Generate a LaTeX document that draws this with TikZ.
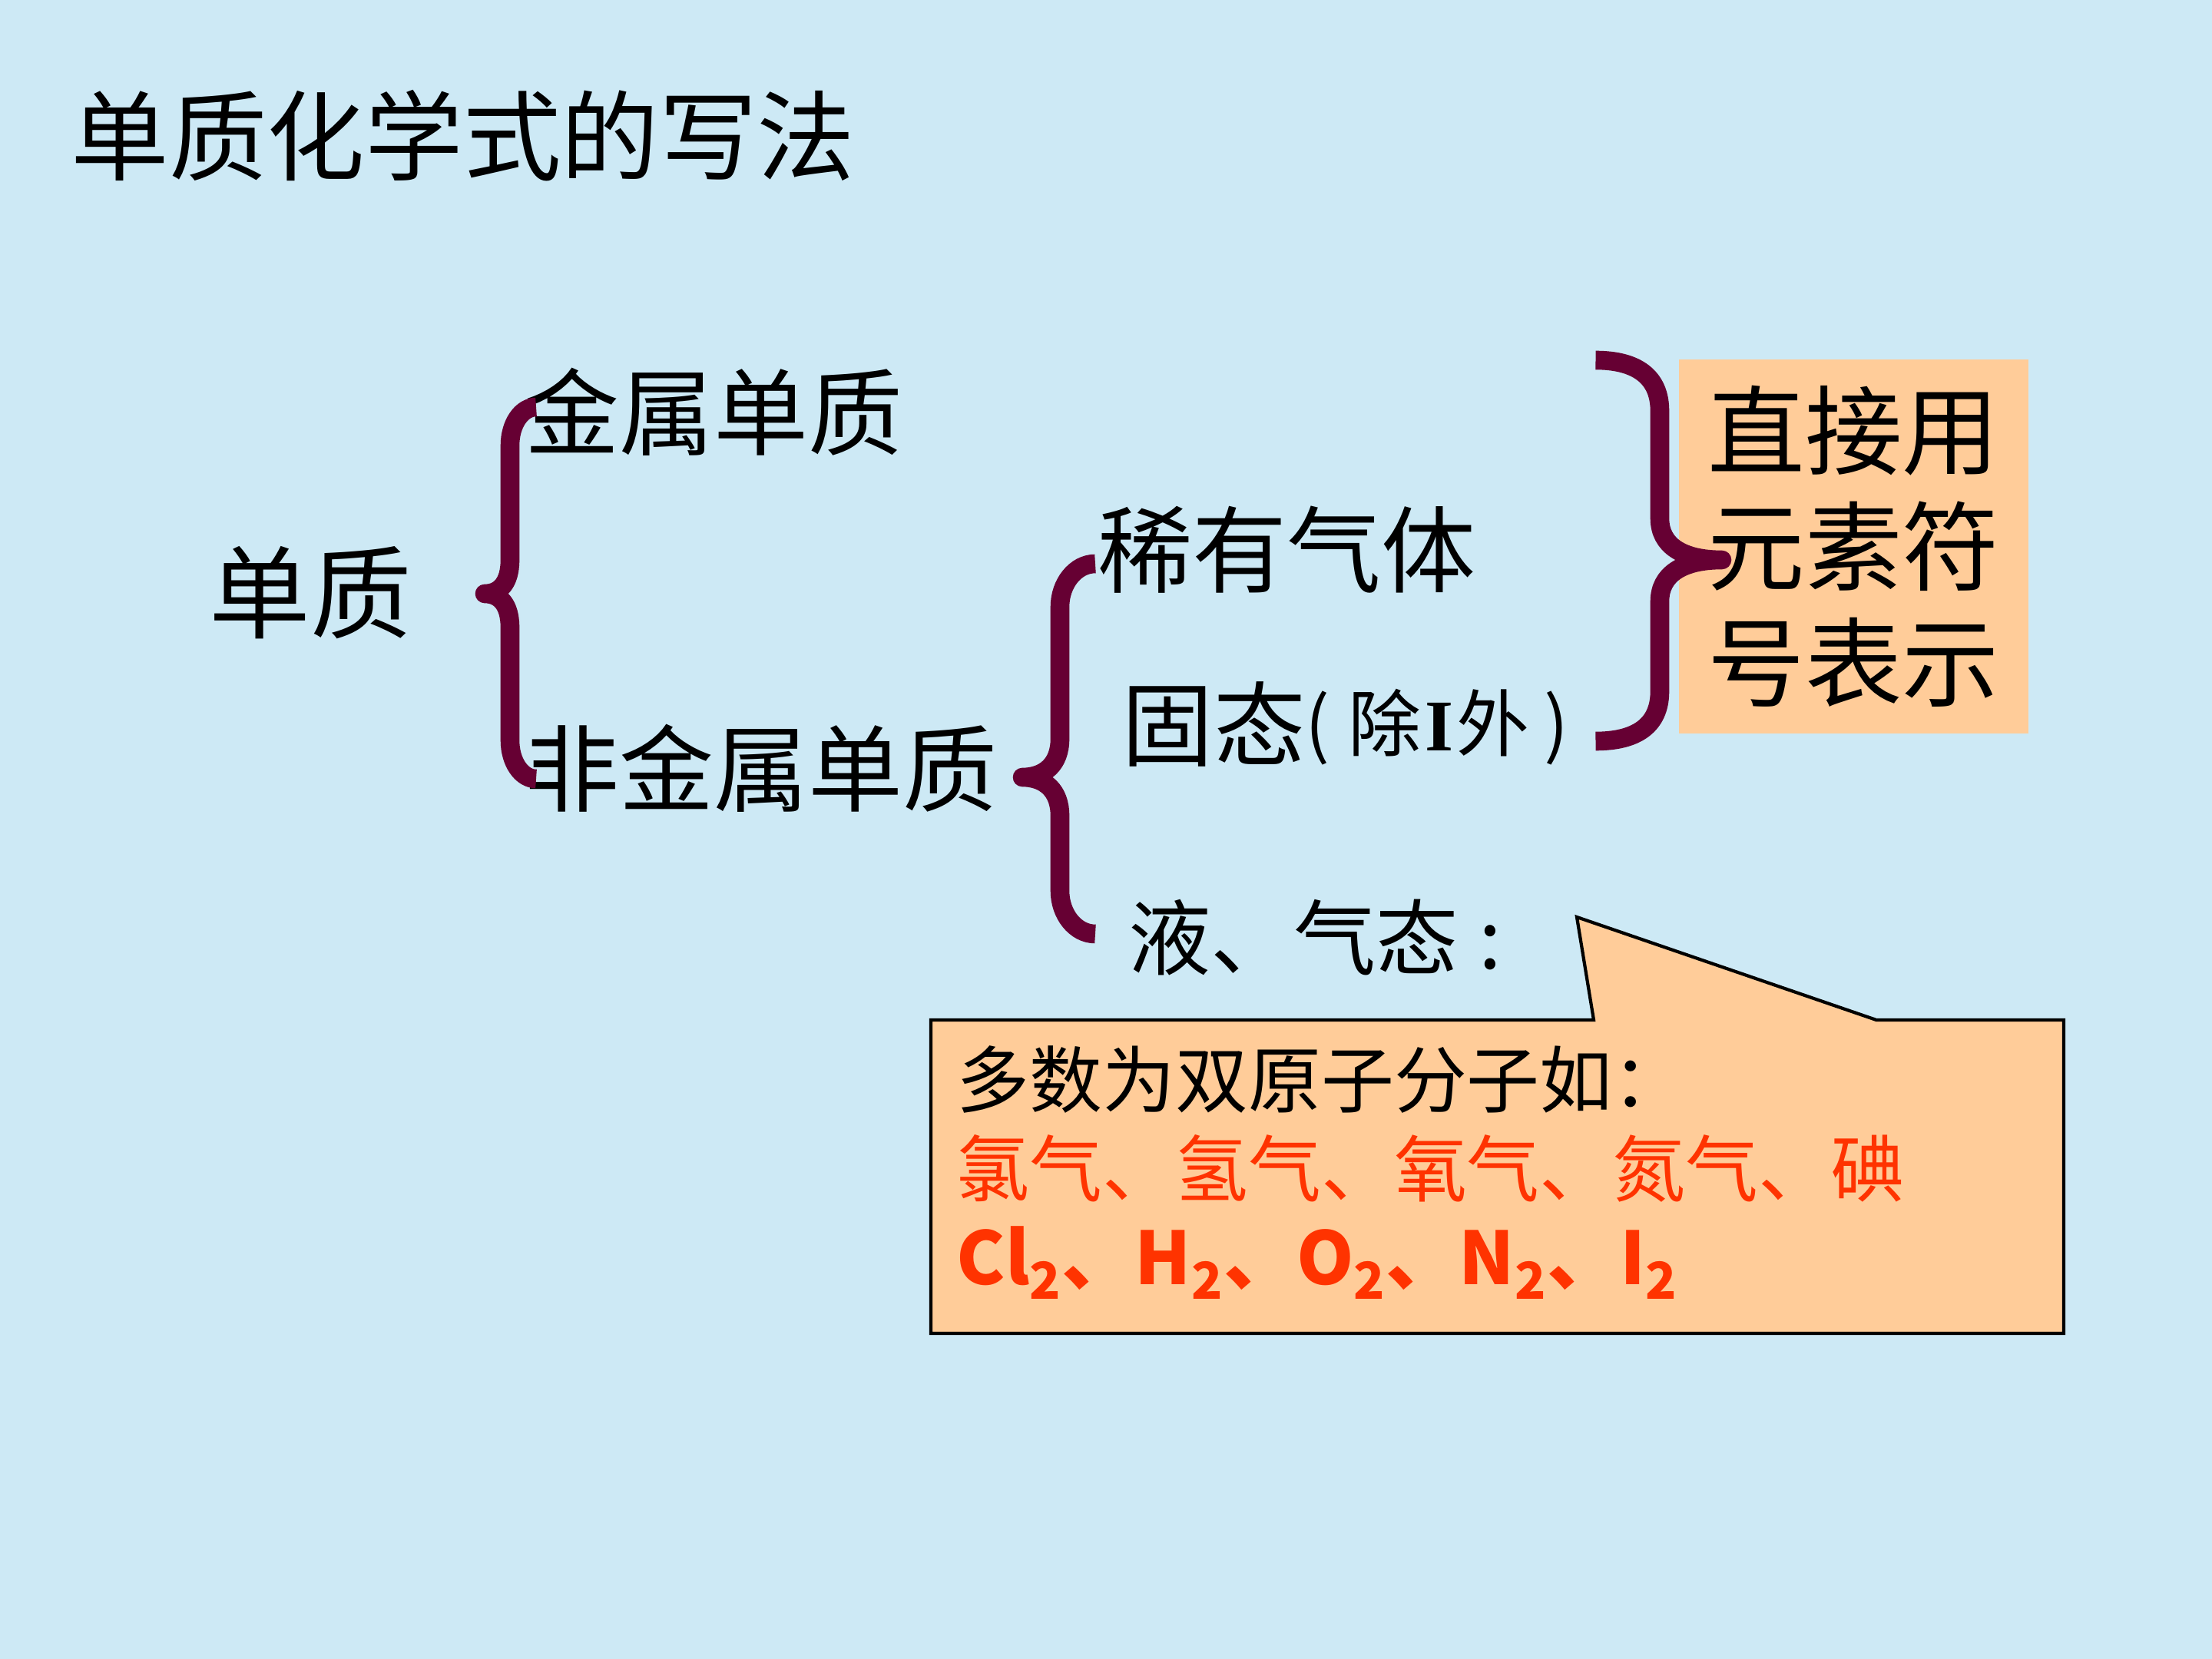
\documentclass[tikz,border=0pt]{standalone}
\usepackage{fontspec}
\setmainfont{Noto Sans CJK SC}
\newfontfamily\timesf{Liberation Serif}
\usetikzlibrary{positioning}
\definecolor{bgblue}{RGB}{205,233,245}
\definecolor{peach}{RGB}{255,204,153}
\definecolor{braceclr}{RGB}{102,0,51}
\definecolor{redorange}{RGB}{255,51,0}

\begin{document}
\begin{tikzpicture}[every node/.style={inner sep=0pt, anchor=west},
  brc/.style={draw=braceclr, line width=7pt, line cap=butt, line join=round},
  big/.style={font=\fontsize{35}{42}\selectfont}]
  \fill[bgblue] (0,0) rectangle (28.8,-21.6);
  \useasboundingbox (0,0) rectangle (28.8,-21.6);
  % title
  \node[font=\fontsize{36.3}{43}\selectfont] (title) at (0.92,-1.77) {单质化学式的写法};
  % tree
  \node[font=\fontsize{37.5}{44}\selectfont] (dz) at (2.72,-7.72) {单质};
  \node[big] (jsdz) at (6.83,-5.36) {金属单质};
  \node[big] (fjsdz) at (6.83,-10.0) {非金属单质};
  \node[big] (xyqt) at (14.29,-7.16) {稀有气体};
  \node[font=\fontsize{34}{40}\selectfont] (gt) at (14.60,-9.43)
    {固态\raisebox{3pt}{\fontsize{27}{30}\selectfont(\kern0.25em 除\kern0.05em{\timesf\bfseries I}\kern0.05em 外\kern0.2em)}};
  \node[font=\fontsize{30.5}{36}\selectfont] (yqt) at (14.69,-12.21) {液、气态\kern0.25em:};
  \node[anchor=center, fill=peach, minimum width=4.55cm, minimum height=4.87cm, align=center,
    font=\fontsize{36}{43}\selectfont] (fh) at (24.135,-7.115) {直接用\\元素符\\号表示};
  % braces
  \draw[brc] (6.98,-5.30) .. controls (6.79,-5.30) and (6.64,-5.52) .. (6.64,-5.8) -- (6.64,-7.29)
    .. controls (6.64,-7.6) and (6.5,-7.73) .. (6.31,-7.73) .. controls (6.5,-7.73) and (6.64,-7.86) .. (6.64,-8.17)
    -- (6.64,-9.64) .. controls (6.64,-9.92) and (6.79,-10.14) .. (6.98,-10.14);
  \draw[brc] (14.26,-7.34) .. controls (14.0,-7.34) and (13.80,-7.6) .. (13.80,-7.9) -- (13.80,-9.62)
    .. controls (13.80,-9.95) and (13.6,-10.12) .. (13.31,-10.12) .. controls (13.6,-10.12) and (13.80,-10.29) .. (13.80,-10.62)
    -- (13.80,-11.6) .. controls (13.80,-11.9) and (14.0,-12.16) .. (14.26,-12.16);
  \draw[brc] (20.775,-4.69) .. controls (21.3,-4.69) and (21.61,-4.9) .. (21.61,-5.35) -- (21.61,-6.75)
    .. controls (21.61,-7.1) and (21.9,-7.29) .. (22.42,-7.29) .. controls (21.9,-7.29) and (21.61,-7.48) .. (21.61,-7.83)
    -- (21.61,-9.0) .. controls (21.61,-9.45) and (21.3,-9.65) .. (20.775,-9.65);
  % callout
  \draw[fill=peach, line width=1.2pt] (12.12,-13.28) -- (20.75,-13.28) -- (20.53,-11.94)
    -- (24.43,-13.28) -- (26.87,-13.28) -- (26.87,-17.36) -- (12.12,-17.36) -- cycle;
  \node[font=\fontsize{27}{34}\selectfont] (l1) at (12.45,-14.05) {多数为双原子分子如：};
  \node[font=\fontsize{27}{34}\selectfont, text=redorange] (l2) at (12.45,-15.21) {氯气、氢气、氧气、氮气、碘};
  \node[font=\fontsize{27}{34}\selectfont\bfseries, text=redorange] (l3) at (12.45,-16.44)
    {Cl\textsubscript{2}、H\textsubscript{2}、O\textsubscript{2}、N\textsubscript{2}、I\textsubscript{2}};
\end{tikzpicture}
\end{document}
